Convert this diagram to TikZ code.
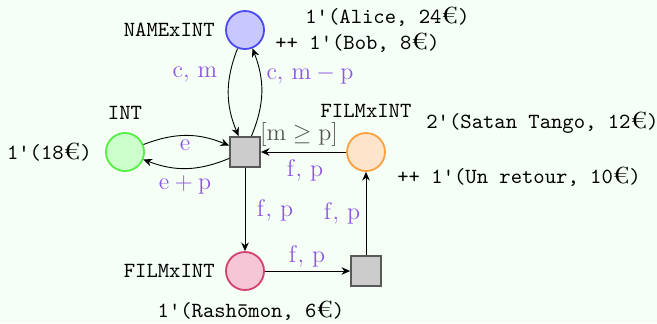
\documentclass[tikz,border=0pt]{standalone}
\usetikzlibrary{arrows.meta}
\definecolor{bgcol}{HTML}{F5FFF5}
\definecolor{labcol}{HTML}{8F55E6}
\definecolor{guardcol}{HTML}{555555}
\definecolor{aborder}{HTML}{4A4AF2}
\definecolor{afill}{HTML}{C8C8FF}
\definecolor{iborder}{HTML}{55EE44}
\definecolor{ifill}{HTML}{CCFFCC}
\definecolor{fborder}{HTML}{FFA040}
\definecolor{ffill}{HTML}{FFE4CC}
\definecolor{rborder}{HTML}{D44070}
\definecolor{rfill}{HTML}{F4C6D6}
\newcommand{\eur}{{\rmfamily\scalebox{1.22}[1.08]{€}}}
\tikzset{
  place/.style={circle, draw, line width=0.9pt, minimum size=19pt, inner sep=0pt},
  trans/.style={rectangle, draw=black!65, fill=black!20, line width=0.9pt, minimum size=15pt, inner sep=0pt},
  arc/.style={-{Stealth[length=4.3pt,width=3.8pt]}, line width=0.45pt},
  tok/.style={font=\ttfamily\fontsize{10.8}{13}\selectfont, inner sep=0pt},
  lab/.style={text=labcol, font=\fontsize{11.5}{13}\selectfont, inner sep=0pt},
}
\begin{document}
\begin{tikzpicture}[x=1pt,y=1pt]
\fill[bgcol] (0,0) rectangle (328.5,-161.5);
\useasboundingbox (0,0) rectangle (328.5,-161.5);
% places
\node[place, draw=aborder, fill=afill] (A) at (122.5,-15) {};
\node[place, draw=iborder, fill=ifill] (I) at (62.5,-76) {};
\node[place, draw=fborder, fill=ffill] (F) at (183,-76) {};
\node[place, draw=rborder, fill=rfill] (R) at (122.5,-135.5) {};
% transitions
\node[trans] (T1) at (122.5,-76) {};
\node[trans] (T2) at (183,-135.5) {};
% arcs
\draw[arc] (A) to[bend right=22] (T1);
\draw[arc] (T1) to[bend right=22] (A);
\draw[arc] (I) to[bend left=22] (T1);
\draw[arc] (T1) to[bend left=22] (I);
\draw[arc] (F) -- (T1);
\draw[arc] (T1) -- (R);
\draw[arc] (R) -- (T2);
\draw[arc] (T2) -- (F);
% place names
\node[tok, anchor=east] (nA) at (107.5,-15) {NAMExINT};
\node[tok] (nI) at (62.5,-56.5) {INT};
\node[tok] (nF) at (183,-55.5) {FILMxINT};
\node[tok, anchor=east] (nR) at (107.5,-135.5) {FILMxINT};
% markings
\node[tok, anchor=west] (mA1) at (152.5,-8.5) {1'(Alice, 24\eur)};
\node[tok, anchor=west] (mA2) at (137.5,-21.5) {++ 1'(Bob, 8\eur)};
\node[tok, anchor=east] (mI) at (46,-76) {1'(18\eur)};
\node[tok, anchor=west] (mF1) at (213,-61.5) {2'(Satan Tango, 12\eur)};
\node[tok, anchor=west] (mF2) at (198.5,-88.5) {++ 1'(Un retour, 10\eur)};
\node[tok] (mR) at (125.5,-155.5) {1'(Rash\=omon, 6\eur)};
% guard
\node[text=guardcol, font=\fontsize{11.5}{13}\selectfont, inner sep=0pt] (g) at (149.5,-67) {$[\mathrm{m} \geq \mathrm{p}]$};
% arc labels
\node[lab] (l1) at (97.5,-37.5) {$\mathrm{c},\,\mathrm{m}$};
\node[lab] (l2) at (155,-37.5) {$\mathrm{c},\,\mathrm{m} - \mathrm{p}$};
\node[lab] (l3) at (92.5,-72.5) {$\mathrm{e}$};
\node[lab] (l4) at (92.5,-92.5) {$\mathrm{e} + \mathrm{p}$};
\node[lab] (l5) at (152.5,-85) {$\mathrm{f},\,\mathrm{p}$};
\node[lab] (l6) at (137.5,-105) {$\mathrm{f},\,\mathrm{p}$};
\node[lab] (l7) at (171,-106.5) {$\mathrm{f},\,\mathrm{p}$};
\node[lab] (l8) at (153.5,-128) {$\mathrm{f},\,\mathrm{p}$};
\end{tikzpicture}
\end{document}
